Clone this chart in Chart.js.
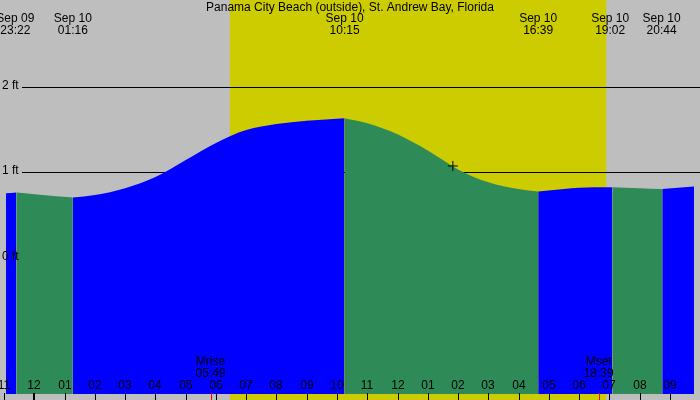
<!DOCTYPE html>
<html><head><meta charset="utf-8">
<script src="https://cdn.jsdelivr.net/npm/chart.js@4"></script>
<style>body{margin:0;background:#bebebe}canvas{display:block}</style>
</head><body><canvas id="c" width="700" height="400"></canvas>
<script>
// hours relative to midnight Sep 10, heights in ft
const times   = [-0.94,-0.6, 0, 1.27, 2, 3, 4, 5, 6, 7, 8, 9, 10.25, 11, 12, 13, 14, 15, 16, 16.65, 17.5, 18.5, 19.1, 20, 20.75, 21.8];
const heights = [0.75, 0.76, 0.74, 0.70, 0.73, 0.81, 0.94, 1.14, 1.34, 1.49, 1.56, 1.60, 1.63, 1.57, 1.44, 1.25, 1.03, 0.88, 0.80, 0.77, 0.80, 0.82, 0.82, 0.81, 0.80, 0.83];
const colorBreaks = [-0.6, 1.27, 10.25, 16.65, 19.1, 20.75];
const sunrise = 6.46, sunset = 18.9;
const moonrise = 5.82, moonset = 18.65;
const tickHours = [-1,0,1,2,3,4,5,6,7,8,9,10,11,12,13,14,15,16,17,18,19,20,21];
const tickLabels = ['11','12','01','02','03','04','05','06','07','08','09','10','11','12','01','02','03','04','05','06','07','08','09'];
const topTimes  = [-0.63, 1.27, 10.25, 16.65, 19.03, 20.73];
const topDates  = ['Sep 09','Sep 10','Sep 10','Sep 10','Sep 10','Sep 10'];
const topLabels = ['23:22','01:16','10:15','16:39','19:02','20:44'];
const levelLines = [1, 2];
const levelLabels = [[0,'0 ft'],[1,'1 ft'],[2,'2 ft']];
const nowPoint = {x: 13.83, y: 1.07};
const title = 'Panama City Beach (outside), St. Andrew Bay, Florida';

// split into colored segments
const datasets = [];
for (let s = 0; s <= colorBreaks.length; s++) {
  const lo = s === 0 ? -Infinity : colorBreaks[s-1];
  const hi = s === colorBreaks.length ? Infinity : colorBreaks[s];
  const pts = [];
  times.forEach((t,i)=>{ if (t>=lo-1e-9 && t<=hi+1e-9) pts.push({x:t,y:heights[i]}); });
  datasets.push({type:'line', data:pts, fill:'start', borderWidth:0, pointRadius:0,
    cubicInterpolationMode:'monotone', backgroundColor: s%2===0 ? '#0000ff' : '#2e8b57', borderColor:'rgba(0,0,0,0)', order:2});
}
datasets.push({type:'scatter', data:[nowPoint], pointStyle:'cross', pointRadius:5, borderColor:'#000', borderWidth:1, order:1});

const FONT = '12px "Liberation Sans", Arial, sans-serif';
const bgPlugin = {
  id:'bg',
  beforeDatasetsDraw(chart){
    const {ctx, scales:{x,y}} = chart;
    ctx.save();
    ctx.fillStyle='#bebebe'; ctx.fillRect(0,0,700,400);
    ctx.fillStyle='#cccc00';
    ctx.fillRect(x.getPixelForValue(sunrise),0,x.getPixelForValue(sunset)-x.getPixelForValue(sunrise),400);
    ctx.strokeStyle='#000'; ctx.lineWidth=1;
    levelLines.forEach(v=>{const py=Math.round(y.getPixelForValue(v))+0.5; ctx.beginPath(); ctx.moveTo(22,py); ctx.lineTo(700,py); ctx.stroke();});
    ctx.restore();
  },
  afterDatasetsDraw(chart){
    const {ctx, scales:{x,y}} = chart;
    ctx.save();
    ctx.font=FONT; ctx.fillStyle='#000'; ctx.textAlign='center'; ctx.textBaseline='middle';
    ctx.fillText(title,350,8);
    topTimes.forEach((t,i)=>{const px=x.getPixelForValue(t); ctx.fillText(topDates[i],px,19); ctx.fillText(topLabels[i],px,31);});
    ctx.textAlign='left';
    levelLabels.forEach(([v,l])=>ctx.fillText(l,2,y.getPixelForValue(v)-1));
    ctx.textAlign='center';
    tickHours.forEach((h,i)=>{const px=Math.round(x.getPixelForValue(h));
      ctx.fillText(tickLabels[i],px,386);
      ctx.fillStyle='#000'; ctx.fillRect(px-(h===0?1:0),393,h===0?2:1,7);});
    [[moonrise,'Mrise','05:49'],[moonset,'Mset','18:39']].forEach(([t,a,b])=>{
      const px=x.getPixelForValue(t); ctx.fillText(a,px,362); ctx.fillText(b,px,374);
      ctx.fillStyle='#ff0000'; ctx.fillRect(Math.round(px),393,1,7); ctx.fillStyle='#000';});
    ctx.restore();
  }
};

new Chart(document.getElementById('c'), {
  data:{datasets},
  options:{responsive:false, devicePixelRatio:1, animation:false,
    layout:{padding:0},
    plugins:{legend:{display:false}, tooltip:{enabled:false}},
    scales:{
      x:{type:'linear', min:-0.94, max:21.8, display:false},
      y:{type:'linear', min:-1.6, max:2.943, display:false}
    }},
  plugins:[bgPlugin]
});
</script></body></html>
